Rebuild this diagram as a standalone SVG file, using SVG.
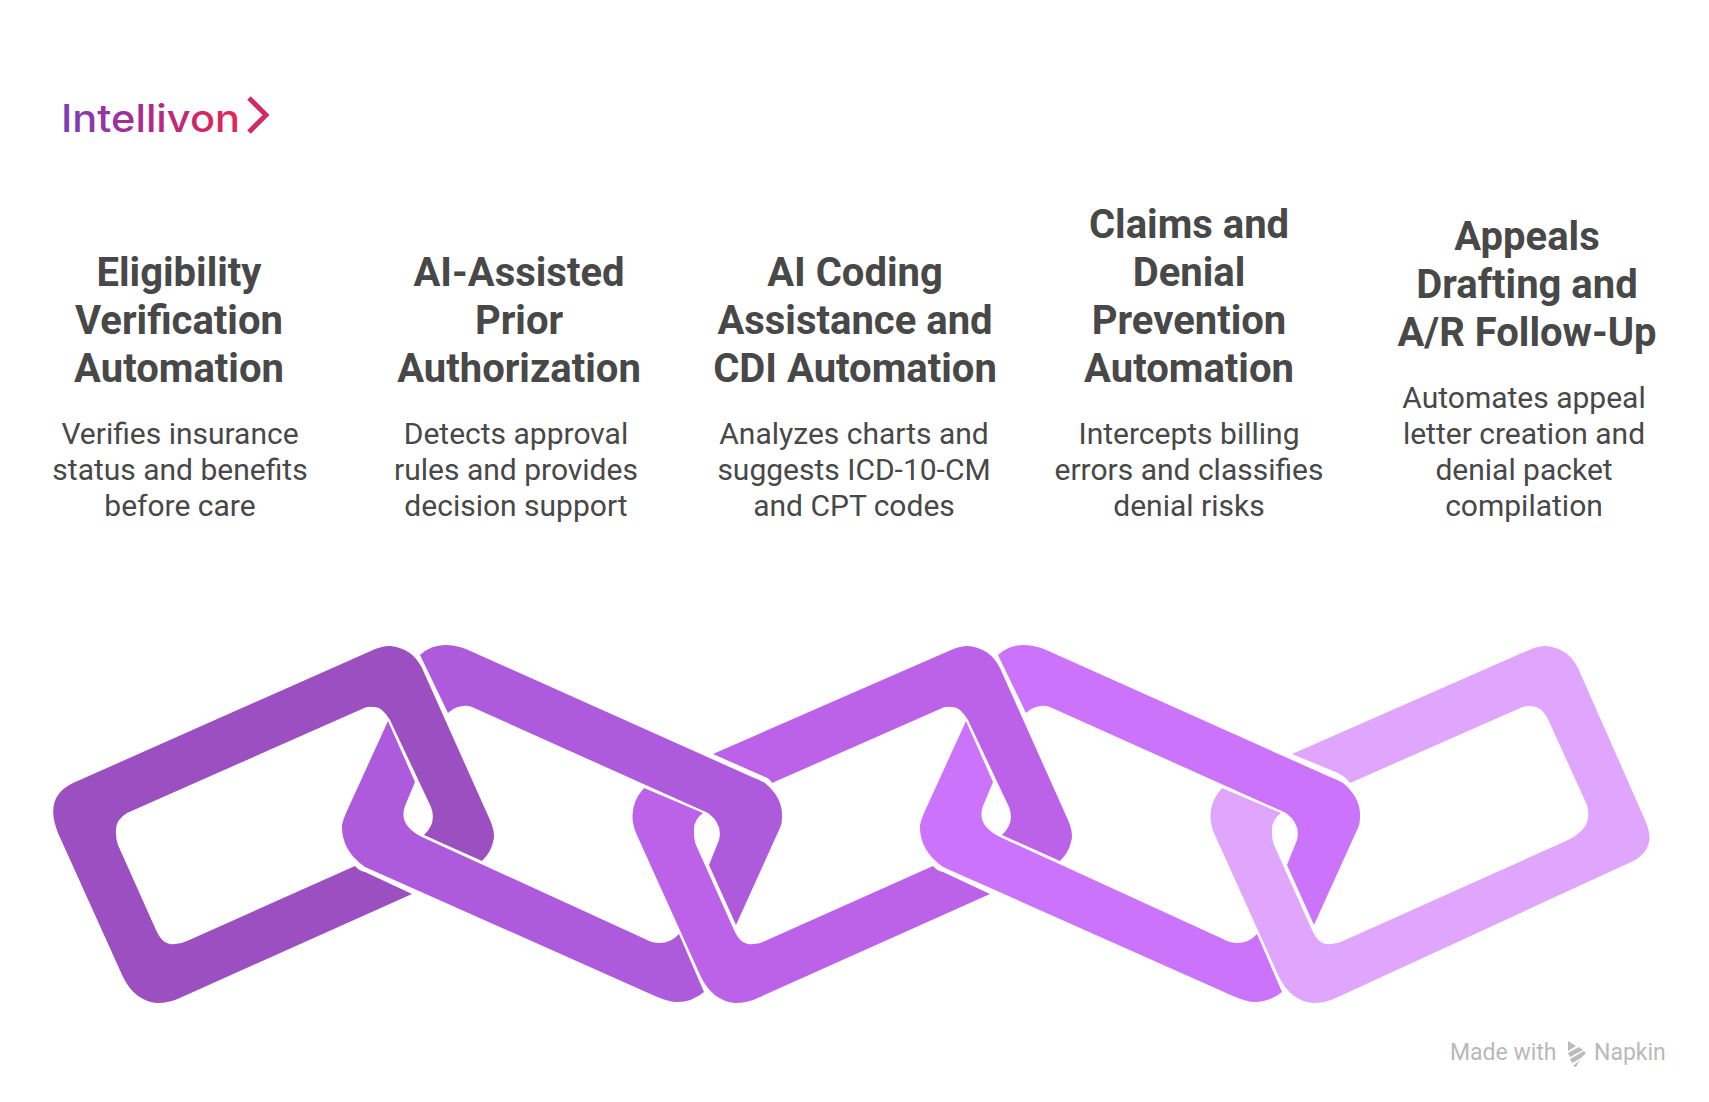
<svg xmlns="http://www.w3.org/2000/svg" xmlns:xlink="http://www.w3.org/1999/xlink" width="1709" height="1102" viewBox="0 0 1709 1102">
<style>
.h{font-family:Roboto,"Liberation Sans",sans-serif;font-weight:700;font-size:40px;fill:#484848;text-anchor:middle}
.b{font-family:Roboto,"Liberation Sans",sans-serif;font-weight:400;font-size:30px;fill:#484848;text-anchor:middle}
.m{font-family:Roboto,"Liberation Sans",sans-serif;font-size:23px;fill:#b9b9b9}
</style>
<defs>
<linearGradient id="lg" gradientUnits="userSpaceOnUse" x1="62" y1="0" x2="240" y2="0"><stop offset="0" stop-color="#7a3fb8"/><stop offset="0.5" stop-color="#b02a8a"/><stop offset="1" stop-color="#e6264f"/></linearGradient>
<path id="oddU" d="M135 754L373 650Q382 646 390 646Q412 648 422 668L490 820Q496 834 493 842Q491 852 482 861L424 835Q437 823 431 807L390 720Q382 706 373 707Q367 706 362 709L194 783Q191 778 187 777Z"/>
<path id="oddL" d="M66 788L125 813Q115 820 116 832Q116 840 118 845L156 930Q163 946 175 944Q181 944 187 941L355 866Q359 871 365 872L412 894L182 997Q170 1003 157 1003Q135 1001 123 977L58 833Q48 808 66 788Z"/>
<path id="evenA" d="M420 655Q431 645 445 645Q455 645 466 649L752 777Q760 780 765 783Q783 798 782 817Q782 825 779 830L736 925L709 865L719 840Q723 824 708 813L472 707Q467 705 463 706Q454 707 448 713Z"/>
<path id="evenB" d="M388 721L415 782L405 806Q398 825 422 837L645 939Q652 943 659 943Q671 943 679 934L704 992Q692 1002 677 1002Q669 1002 655 996L365 867Q341 850 342 825Q343 820 346 813Z"/>
</defs>
<g id="logo">
<text x="61" y="132" font-family="Inter,'Noto Sans',sans-serif" font-size="38" font-weight="500" fill="url(#lg)" textLength="179" lengthAdjust="spacingAndGlyphs">Intellivon</text>
<polyline points="249,98 266,115 249,132" fill="none" stroke="#cf2b68" stroke-width="5"/>
</g>
<g id="col1"><text class="h" x="179" y="286">Eligibility</text><text class="h" x="179" y="334">Verification</text><text class="h" x="179" y="382">Automation</text><text class="b" x="180" y="444">Verifies insurance</text><text class="b" x="180" y="480">status and benefits</text><text class="b" x="180" y="516">before care</text></g>
<g id="col2"><text class="h" x="519" y="286">AI-Assisted</text><text class="h" x="519" y="334">Prior</text><text class="h" x="519" y="382">Authorization</text><text class="b" x="516" y="444">Detects approval</text><text class="b" x="516" y="480">rules and provides</text><text class="b" x="516" y="516">decision support</text></g>
<g id="col3"><text class="h" x="855" y="286">AI Coding</text><text class="h" x="855" y="334">Assistance and</text><text class="h" x="855" y="382">CDI Automation</text><text class="b" x="854" y="444">Analyzes charts and</text><text class="b" x="854" y="480">suggests ICD-10-CM</text><text class="b" x="854" y="516">and CPT codes</text></g>
<g id="col4"><text class="h" x="1189" y="238">Claims and</text><text class="h" x="1189" y="286">Denial</text><text class="h" x="1189" y="334">Prevention</text><text class="h" x="1189" y="382">Automation</text><text class="b" x="1189" y="444">Intercepts billing</text><text class="b" x="1189" y="480">errors and classifies</text><text class="b" x="1189" y="516">denial risks</text></g>
<g id="col5"><text class="h" x="1527" y="250">Appeals</text><text class="h" x="1527" y="298">Drafting and</text><text class="h" x="1527" y="346">A/R Follow-Up</text><text class="b" x="1524" y="408">Automates appeal</text><text class="b" x="1524" y="444">letter creation and</text><text class="b" x="1524" y="480">denial packet</text><text class="b" x="1524" y="516">compilation</text></g>
<g id="link1" fill="#9c4fc0"><path d="M73 783L373 650Q382 646 390 646Q412 648 422 668L490 820Q496 834 493 842Q491 852 482 861L424 835Q437 823 431 807L390 720Q382 706 373 707Q367 706 362 709L127 813Q115 820 116 832Q116 840 118 845L156 930Q163 946 175 944Q181 944 187 941L355 866Q359 871 365 872L412 894L182 997Q170 1003 157 1003Q135 1001 123 977L58 833C48 808 54 792 73 783Z"/></g>
<g id="link2" fill="#ae5adc"><use xlink:href="#evenA" href="#evenA"/><use xlink:href="#evenB" href="#evenB"/></g>
<g id="link3" fill="#bc62e9" transform="translate(578 0)"><use xlink:href="#oddU" href="#oddU"/><use xlink:href="#oddL" href="#oddL"/></g>
<g id="link4" fill="#cc73fc" transform="translate(578 0)"><use xlink:href="#evenA" href="#evenA"/><use xlink:href="#evenB" href="#evenB"/></g>
<g id="link5" fill="#e0a5fc" transform="translate(1156 0)"><path d="M66 788L125 813Q115 820 116 832Q116 840 118 845L156 930Q163 946 175 944Q181 944 187 941L410 841Q421 836 427 829Q435 820 431 805L391 717Q384 705 373 706Q367 706 362 709L194 783Q190 777 182 773L136 754L373 650Q382 646 390 646Q412 648 422 668L489 820Q495 834 493 842Q490 856 473 863L182 997Q170 1003 157 1003Q135 1001 123 977L58 833Q48 808 66 788Z"/></g>
<g id="watermark">
<text class="m" x="1450" y="1060">Made with</text>
<path fill="#bbb" d="M1568 1041L1576 1046L1568 1051ZM1568 1053L1579 1047L1583 1050L1570 1057ZM1570 1059L1584 1051L1586 1053L1581 1058L1572 1063ZM1573 1066L1580 1060L1576 1067Z"/>
<text class="m" x="1594" y="1060">Napkin</text>
</g>
</svg>
